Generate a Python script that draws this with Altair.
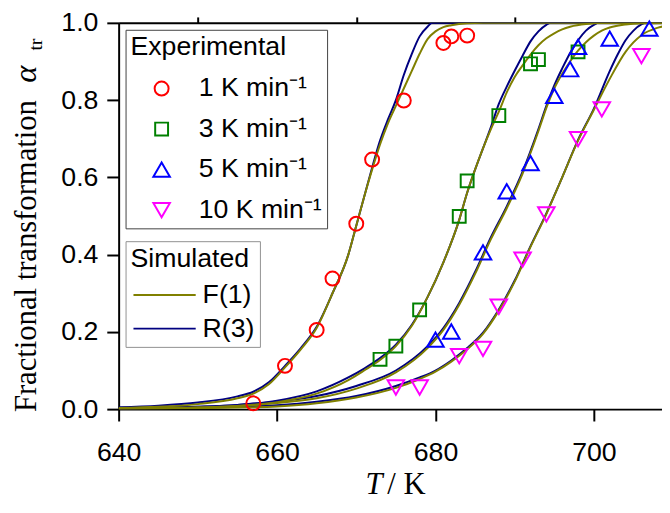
import altair as alt
import pandas as pd

# ---------------- data ----------------
RATES = ["1 K min⁻¹", "3 K min⁻¹", "5 K min⁻¹", "10 K min⁻¹"]
RATE_COLORS = ["#ff0000", "#008000", "#0000ff", "#ff00ff"]
RATE_SHAPES = ["circle", "square", "triangle-up", "triangle-down"]
RATE_SIZES = [200, 170, 280, 280]
MODELS = ["F(1)", "R(3)"]
MODEL_COLORS = ["#808000", "#000080"]

# experimental points
exp_T_1 = [657, 661, 665, 667, 670, 672, 676, 681, 682, 684]
exp_a_1 = [0.015, 0.112, 0.205, 0.338, 0.480, 0.646, 0.799, 0.948, 0.965, 0.967]
exp_T_3 = [673, 675, 678, 683, 684, 688, 692, 693, 698]
exp_a_3 = [0.129, 0.163, 0.257, 0.499, 0.591, 0.760, 0.894, 0.905, 0.925]
exp_T_5 = [680, 682, 686, 689, 692, 695, 697, 698, 702, 707]
exp_a_5 = [0.180, 0.201, 0.406, 0.564, 0.637, 0.811, 0.880, 0.938, 0.959, 0.985]
exp_T_10 = [675, 678, 683, 686, 688, 691, 694, 698, 701, 706]
exp_a_10 = [0.056, 0.056, 0.137, 0.156, 0.265, 0.387, 0.504, 0.699, 0.776, 0.914]

# simulated curves, F(1)
f1_T_1 = [640, 645, 650, 655, 657, 659, 661, 663, 665, 667, 669, 670, 671, 672, 673, 674, 675, 676, 677, 678, 679, 680, 681, 682, 684, 686, 710]
f1_a_1 = [0.003, 0.006, 0.013, 0.028, 0.04, 0.065, 0.108, 0.155, 0.21, 0.30, 0.40, 0.475, 0.55, 0.62, 0.685, 0.74, 0.785, 0.83, 0.875, 0.92, 0.958, 0.978, 0.989, 0.994, 0.999, 1.0, 1.0]
f1_T_3 = [640, 650, 655, 660, 665, 669, 671, 673, 675, 677, 679, 681, 683, 684, 685, 686, 687, 688, 689, 690, 691, 692, 693, 694, 695, 696, 697, 699, 702, 710]
f1_a_3 = [0.001, 0.004, 0.008, 0.018, 0.04, 0.075, 0.10, 0.127, 0.163, 0.215, 0.29, 0.38, 0.49, 0.56, 0.62, 0.675, 0.725, 0.77, 0.82, 0.86, 0.89, 0.918, 0.942, 0.96, 0.973, 0.983, 0.99, 0.997, 1.0, 1.0]
f1_T_5 = [640, 650, 655, 660, 665, 670, 675, 679, 681, 683, 685, 687, 689, 691, 693, 694, 695, 696, 697, 698, 699, 700, 701, 702, 704, 706, 710]
f1_a_5 = [0.001, 0.004, 0.008, 0.016, 0.028, 0.053, 0.095, 0.158, 0.205, 0.27, 0.35, 0.44, 0.52, 0.61, 0.72, 0.78, 0.83, 0.868, 0.9, 0.928, 0.95, 0.967, 0.98, 0.988, 0.996, 0.999, 1.0]
f1_T_10 = [640, 650, 655, 660, 665, 670, 675, 678, 680, 682, 684, 686, 688, 690, 692, 694, 696, 698, 700, 702, 704, 706, 708, 710]
f1_a_10 = [0.0005, 0.002, 0.004, 0.007, 0.015, 0.03, 0.055, 0.078, 0.097, 0.123, 0.155, 0.195, 0.255, 0.33, 0.42, 0.505, 0.6, 0.695, 0.775, 0.855, 0.925, 0.968, 0.987, 0.995]

# simulated curves, R(3)
r3_T_1 = [640, 645, 650, 655, 657, 659, 661, 663, 665, 667, 669, 670, 671, 672, 673, 674, 675, 676, 677, 678, 679, 679.6, 710]
r3_a_1 = [0.005, 0.009, 0.017, 0.033, 0.045, 0.07, 0.112, 0.158, 0.213, 0.30, 0.40, 0.475, 0.55, 0.625, 0.695, 0.75, 0.80, 0.865, 0.919, 0.965, 0.99, 1.0, 1.0]
r3_T_3 = [640, 650, 655, 660, 665, 669, 671, 673, 675, 677, 679, 681, 683, 684, 685, 686, 687, 688, 689, 690, 691, 692, 693, 694, 694.6, 710]
r3_a_3 = [0.002, 0.006, 0.011, 0.022, 0.046, 0.082, 0.105, 0.132, 0.167, 0.218, 0.29, 0.38, 0.49, 0.56, 0.62, 0.675, 0.73, 0.79, 0.835, 0.876, 0.915, 0.952, 0.978, 0.995, 1.0, 1.0]
r3_T_5 = [640, 650, 655, 660, 665, 670, 675, 679, 681, 683, 685, 687, 689, 691, 693, 694, 695, 696, 697, 698, 699, 700, 700.6, 710]
r3_a_5 = [0.002, 0.006, 0.011, 0.02, 0.034, 0.06, 0.1, 0.163, 0.21, 0.275, 0.355, 0.445, 0.525, 0.615, 0.725, 0.785, 0.838, 0.882, 0.922, 0.955, 0.98, 0.995, 1.0, 1.0]
r3_T_10 = [640, 650, 655, 660, 665, 670, 675, 678, 680, 682, 684, 686, 688, 690, 692, 694, 696, 698, 700, 702, 703, 704, 705, 706, 706.6, 710]
r3_a_10 = [0.001, 0.004, 0.006, 0.01, 0.019, 0.034, 0.06, 0.082, 0.1, 0.126, 0.158, 0.198, 0.258, 0.333, 0.422, 0.507, 0.6, 0.697, 0.778, 0.875, 0.918, 0.955, 0.98, 0.996, 1.0, 1.0]

X_MAJOR = [640, 660, 680, 700]
X_MINOR = [650, 670, 690]
Y_MAJOR = [0.0, 0.2, 0.4, 0.6, 0.8, 1.0]
Y_MINOR = [0.1, 0.3, 0.5, 0.7, 0.9]
X_DOMAIN = [640, 708.6]
Y_DOMAIN = [0, 1]

Y_TITLE = "Fractional transformation"
Y_SYMBOL = "α"
Y_SUB = "tr"
X_TITLE_VAR = "T"
X_TITLE_UNIT = "/ K"

# ---------------- tables ----------------
exp_rows = []
for rate, Ts, As in zip(RATES, [exp_T_1, exp_T_3, exp_T_5, exp_T_10],
                        [exp_a_1, exp_a_3, exp_a_5, exp_a_10]):
    for t, a in zip(Ts, As):
        exp_rows.append({"rate": rate, "T": t, "a": a})
exp_df = pd.DataFrame(exp_rows)

sim_rows = []
for model, Tss, Ass in [
    ("F(1)", [f1_T_1, f1_T_3, f1_T_5, f1_T_10], [f1_a_1, f1_a_3, f1_a_5, f1_a_10]),
    ("R(3)", [r3_T_1, r3_T_3, r3_T_5, r3_T_10], [r3_a_1, r3_a_3, r3_a_5, r3_a_10]),
]:
    for rate, Ts, As in zip(RATES, Tss, Ass):
        for t, a in zip(Ts, As):
            sim_rows.append({"model": model, "rate": rate, "T": t, "a": a})
sim_df = pd.DataFrame(sim_rows)

# ---------------- styling ----------------
SANS = "Liberation Sans"
SERIF = "Liberation Serif"
TICK_FS = 27

x_scale = alt.Scale(domain=X_DOMAIN, nice=False, zero=False)
y_scale = alt.Scale(domain=Y_DOMAIN, nice=False, zero=False)

common = dict(title=None, grid=False, tickWidth=2, tickColor="black",
              domainWidth=2, domainColor="black", labelFont=SANS,
              labelFontSize=TICK_FS, labelColor="black",
              labelOverlap=False, labelFlush=False)

x_axis_major = alt.Axis(values=X_MAJOR, format="d", tickSize=12, labelPadding=19, **common)
x_axis_minor = alt.Axis(values=X_MINOR, tickSize=6, labels=False, domain=False, **common)
y_axis_major = alt.Axis(values=Y_MAJOR, format=".1f", tickSize=12, labelPadding=9, **common)
y_axis_minor = alt.Axis(values=Y_MINOR, tickSize=6, labels=False, domain=False, **common)
x_axis_top = alt.Axis(orient="top", title=None, labels=False, ticks=False, grid=False,
                      domainWidth=2, domainColor="black")

leg_exp = alt.Legend(
    title="Experimental", orient="none", legendX=7, legendY=7,
    strokeColor="#404040", fillColor="white", padding=5,
    titleFont=SANS, titleFontSize=TICK_FS, titleFontWeight="normal", titleColor="black",
    titlePadding=14, labelFont=SANS, labelFontSize=TICK_FS, labelColor="black",
    symbolOffset=18, labelOffset=24, rowPadding=13, symbolStrokeWidth=2,
)
# short custom path scaled by the symbol size gives a 63 px line in a 21 px slot
leg_sim = alt.Legend(
    title="Simulated", orient="none", legendX=7, legendY=221,
    strokeColor="#909090", fillColor="white", padding=5,
    titleFont=SANS, titleFontSize=TICK_FS, titleFontWeight="normal", titleColor="black",
    titlePadding=9, labelFont=SANS, labelFontSize=TICK_FS, labelColor="black",
    symbolType="M-3,0H3", symbolSize=441, symbolStrokeWidth=2,
    symbolOffset=21, labelOffset=25, rowPadding=6,
)

stroke_enc = alt.Stroke("model:N", scale=alt.Scale(domain=MODELS, range=MODEL_COLORS), legend=leg_sim)

navy = alt.Chart(sim_df).transform_filter(alt.datum.model == "R(3)").mark_line(
    strokeWidth=2, clip=True, interpolate="monotone"
).encode(
    x=alt.X("T:Q", scale=x_scale, axis=x_axis_major),
    y=alt.Y("a:Q", scale=y_scale, axis=y_axis_major),
    stroke=stroke_enc, detail="rate:N", order="T:Q",
)
olive = alt.Chart(sim_df).transform_filter(alt.datum.model == "F(1)").mark_line(
    strokeWidth=2, clip=True, interpolate="monotone"
).encode(
    x=alt.X("T:Q", scale=x_scale, axis=x_axis_minor),
    y=alt.Y("a:Q", scale=y_scale, axis=y_axis_minor),
    stroke=stroke_enc, detail="rate:N", order="T:Q",
)
points = alt.Chart(exp_df).mark_point(filled=False, strokeWidth=2, opacity=1).encode(
    x=alt.X("T:Q", scale=x_scale, axis=x_axis_top),
    y=alt.Y("a:Q", scale=y_scale, axis=None),
    color=alt.Color("rate:N", scale=alt.Scale(domain=RATES, range=RATE_COLORS), legend=leg_exp),
    shape=alt.Shape("rate:N", scale=alt.Scale(domain=RATES, range=RATE_SHAPES), legend=leg_exp),
    size=alt.Size("rate:N", scale=alt.Scale(type="ordinal", domain=RATES, range=RATE_SIZES), legend=leg_exp),
)

one = pd.DataFrame({"k": [0]})
y_title = alt.Chart(one).mark_text(
    text=Y_TITLE, angle=270, align="left", baseline="alphabetic",
    font=SERIF, fontSize=31, color="black"
).encode(x=alt.value(-84), y=alt.value(394))
y_sym = alt.Chart(one).mark_text(
    text=Y_SYMBOL, angle=270, align="center", baseline="alphabetic",
    font=SERIF, fontSize=33, fontStyle="italic", color="black"
).encode(x=alt.value(-84), y=alt.value(52))
y_sub = alt.Chart(one).mark_text(
    text=Y_SUB, angle=270, align="center", baseline="alphabetic",
    font=SERIF, fontSize=20, color="black"
).encode(x=alt.value(-78), y=alt.value(22))
x_var = alt.Chart(one).mark_text(
    text=X_TITLE_VAR, align="right", baseline="alphabetic",
    font=SERIF, fontSize=31, fontStyle="italic", color="black"
).encode(x=alt.value(267), y=alt.value(477))
x_unit = alt.Chart(one).mark_text(
    text=X_TITLE_UNIT, align="left", baseline="alphabetic",
    font=SERIF, fontSize=31, color="black"
).encode(x=alt.value(272), y=alt.value(477))

chart = alt.layer(navy, olive, points, y_title, y_sym, y_sub, x_var, x_unit).resolve_axis(
    x="independent", y="independent"
).properties(
    width=550, height=391,
    autosize=alt.AutoSizeParams(type="none"),
    padding={"left": 112, "top": 12, "right": 0, "bottom": 94},
).configure_view(stroke=None)

chart.save("out.html", embed_options={"renderer": "svg", "actions": False})
